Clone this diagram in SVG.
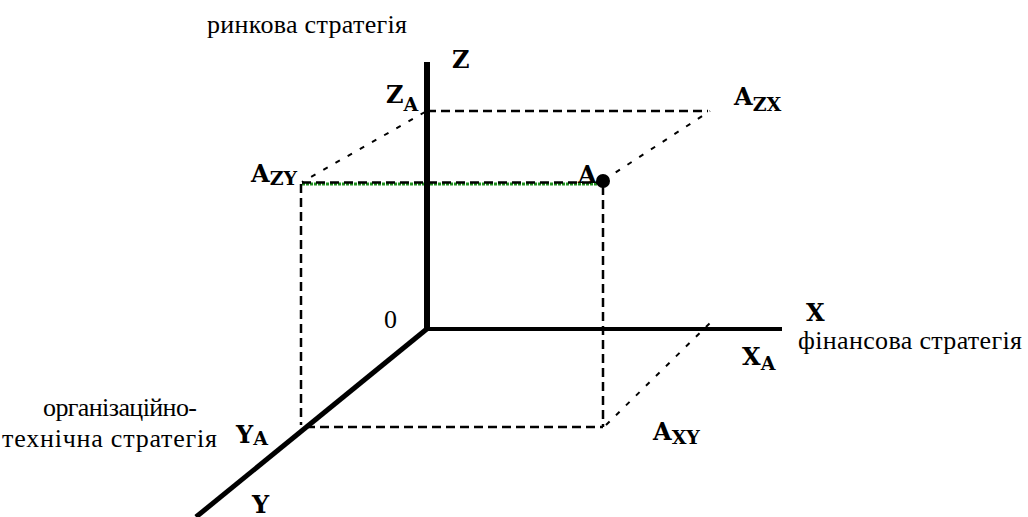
<svg xmlns="http://www.w3.org/2000/svg" width="1028" height="517" viewBox="0 0 1028 517">
<style>
.axis{stroke:#000;fill:none;stroke-linecap:butt}
.dash{stroke:#000;stroke-width:2.5;fill:none;stroke-dasharray:9 5}
.dot{stroke:#000;stroke-width:2;fill:none;stroke-dasharray:5 9}
.lbl{font-family:"DejaVu Serif","Liberation Serif",serif;font-weight:bold;font-size:24px;fill:#000}
.sub{font-size:19px}
.cap{font-family:"Liberation Serif","Times New Roman",Tinos,"DejaVu Serif",serif;font-size:26px;fill:#000}
</style>
<rect width="1028" height="517" fill="#fff"/>
<g id="connectors">
<line class="dash" x1="427" y1="111" x2="708" y2="111"/>
<line class="dot" x1="425" y1="112" x2="302" y2="182"/>
<line class="dot" x1="604" y1="180" x2="710" y2="111"/>
<line x1="302" y1="184" x2="604" y2="184" stroke="#1f8f1f" stroke-width="3" stroke-dasharray="3 1"/>
<line class="dash" x1="302" y1="182.5" x2="604" y2="182.5" stroke-width="2"/>
<line class="dash" x1="301" y1="184" x2="301" y2="425"/>
<line class="dash" x1="603" y1="186" x2="603" y2="427"/>
<line class="dash" x1="306" y1="427" x2="603" y2="427"/>
<line class="dot" x1="606" y1="425" x2="710" y2="323"/>
</g>
<g id="axes">
<line class="axis" x1="427" y1="62" x2="427" y2="331" stroke-width="6"/>
<line class="axis" x1="425" y1="329" x2="782" y2="329" stroke-width="4"/>
<line class="axis" x1="428" y1="328" x2="196" y2="517" stroke-width="5"/>
</g>
<g id="point-A">
<text class="lbl" x="578" y="183">A</text>
<circle cx="603" cy="181" r="7" fill="#000"/>
</g>
<g id="label-Z"><text class="lbl" x="452" y="68">Z</text></g>
<g id="label-ZA"><text class="lbl" x="386" y="103">Z<tspan class="sub" dy="8" font-size="16px">A</tspan></text></g>
<g id="label-AZX"><text class="lbl" x="734" y="105">A<tspan class="sub" dy="6">ZX</tspan></text></g>
<g id="label-AZY"><text class="lbl" x="251" y="182">A<tspan class="sub" dy="3">ZY</tspan></text></g>
<g id="label-0"><text class="cap" x="384" y="328" font-size="25px">0</text></g>
<g id="label-X"><text class="lbl" x="806" y="321">X</text></g>
<g id="label-XA"><text class="lbl" x="742" y="365">X<tspan class="sub" dy="5" font-size="16px">A</tspan></text></g>
<g id="label-AXY"><text class="lbl" x="653" y="440">A<tspan class="sub" dy="4">XY</tspan></text></g>
<g id="label-YA"><text class="lbl" x="236" y="443">Y<tspan class="sub" dy="2" font-size="13px">A</tspan></text></g>
<g id="label-Y"><text class="lbl" x="252" y="513">Y</text></g>
<g id="captions">
<text class="cap" x="207" y="33" textLength="200">ринкова стратегія</text>
<text class="cap" x="798" y="349" textLength="224">фінансова стратегія</text>
<text class="cap" x="43" y="416" textLength="154">організаційно-</text>
<text class="cap" x="2" y="447" textLength="215">технічна стратегія</text>
</g>
</svg>
